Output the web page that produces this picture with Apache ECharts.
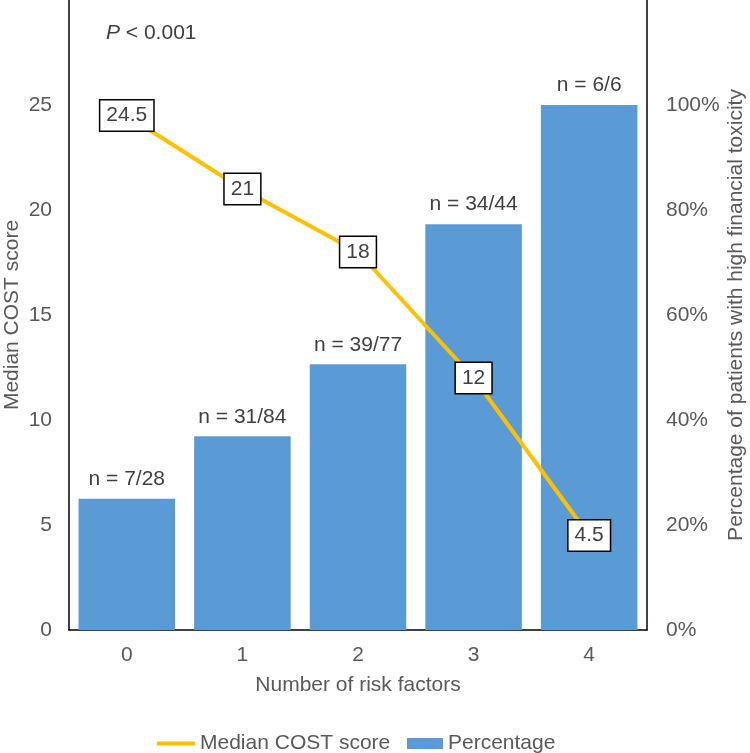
<!DOCTYPE html>
<html>
<head>
<meta charset="utf-8">
<script src="https://cdn.jsdelivr.net/npm/echarts@6/dist/echarts.min.js"></script>
<style>html,body{margin:0;padding:0;background:#fff}#c{width:750px;height:753px}</style>
</head>
<body>
<div id="c"></div>
<script>
const categories = ['0', '1', '2', '3', '4'];
const medianScores = [24.5, 21, 18, 12, 4.5];
const percentages = [25, 36.9, 50.6, 77.3, 100];
const nLabels = ['n = 7/28', 'n = 31/84', 'n = 39/77', 'n = 34/44', 'n = 6/6'];
const leftTicks = [0, 30, 5];
const rightTicks = [0, 120, 20];

const FONT = '"Liberation Sans", Arial, sans-serif';
const FS = 21;
const GREY = '#595959';
const chart = echarts.init(document.getElementById('c'));
chart.setOption({
  animation: false,
  textStyle: { fontFamily: FONT },
  grid: { left: 69, right: 103, top: 0, bottom: 123, outerBoundsMode: 'none', containLabel: false },
  title: {
    text: '{i|P} < 0.001', left: 101, top: 18,
    textStyle: { fontFamily: FONT, fontSize: FS, fontWeight: 'normal', color: '#404040',
      rich: { i: { fontStyle: 'italic', fontSize: FS, fontFamily: FONT, color: '#404040' } } }
  },
  legend: [
    { data: ['Median COST score'], left: 152, top: 728, itemWidth: 38, itemHeight: 4,
      icon: 'rect', textStyle: { fontSize: FS, color: GREY, fontFamily: FONT } },
    { data: ['Percentage'], left: 402, top: 728, itemWidth: 36, itemHeight: 11,
      icon: 'rect', textStyle: { fontSize: FS, color: GREY, fontFamily: FONT } }
  ],
  xAxis: {
    type: 'category', data: categories,
    name: 'Number of risk factors', nameLocation: 'middle', nameGap: 45, nameMoveOverlap: false,
    nameTextStyle: { fontSize: FS, color: GREY },
    axisLine: { lineStyle: { color: '#000', width: 1.5 } },
    axisTick: { show: false },
    axisLabel: { fontSize: FS, color: GREY, margin: 15 }
  },
  yAxis: [
    { type: 'value', min: leftTicks[0], max: leftTicks[1], interval: leftTicks[2],
      name: 'Median COST score', nameLocation: 'middle', nameGap: 46, nameMoveOverlap: false,
      nameTextStyle: { fontSize: FS, color: GREY },
      axisLine: { show: true, lineStyle: { color: '#000', width: 1.5 } },
      axisTick: { show: false }, splitLine: { show: false },
      axisLabel: { fontSize: FS, color: GREY, margin: 17,
        formatter: v => v === 30 ? '' : v } },
    { type: 'value', min: rightTicks[0], max: rightTicks[1], interval: rightTicks[2],
      name: 'Percentage of patients with high financial toxicity', nameLocation: 'middle', nameGap: 79, nameMoveOverlap: false,
      nameTextStyle: { fontSize: FS, color: GREY },
      axisLine: { show: true, lineStyle: { color: '#000', width: 1.5 } },
      axisTick: { show: false }, splitLine: { show: false },
      axisLabel: { fontSize: FS, color: GREY, margin: 19,
        formatter: v => v === 120 ? '' : v + '%' } }
  ],
  series: [
    { name: 'Percentage', type: 'bar', yAxisIndex: 1, data: percentages,
      barCategoryGap: '16.5%', itemStyle: { color: '#5B9BD5' }, z: 1,
      label: { show: true, position: 'top', distance: 9, fontSize: FS, color: '#404040',
        formatter: p => nLabels[p.dataIndex] } },
    { name: 'Median COST score', type: 'line', yAxisIndex: 0, data: medianScores,
      symbol: 'circle', symbolSize: 1, z: 5,
      lineStyle: { color: '#FFC000', width: 4 }, itemStyle: { color: '#FFC000' },
      label: { show: true, position: 'inside', fontSize: FS, color: '#404040',
        backgroundColor: '#fff', borderColor: '#000', borderWidth: 1.5,
        padding: [5, 6, 4, 6] } }
  ]
});
</script>
</body>
</html>
